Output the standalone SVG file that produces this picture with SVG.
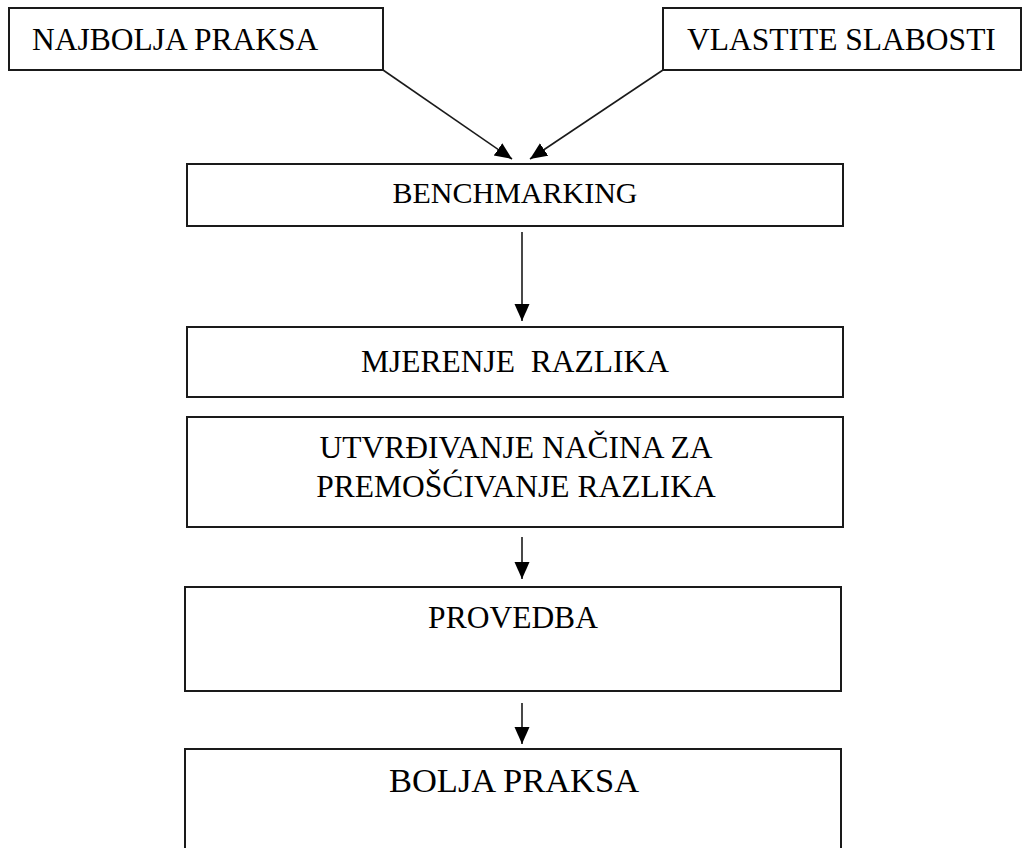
<svg xmlns="http://www.w3.org/2000/svg" width="1023" height="848" viewBox="0 0 1023 848">
<style>
.box{fill:#fff;stroke:#1a1a1a;stroke-width:2}
.t{font-family:'Liberation Serif','Times New Roman',Times,serif;font-size:31.5px;fill:#000}
.c{text-anchor:middle}
.con{stroke:#1a1a1a;stroke-width:1.6;fill:none;marker-end:url(#ah)}
</style>
<defs>
<marker id="ah" markerUnits="userSpaceOnUse" markerWidth="18" markerHeight="16" refX="17" refY="7.5" orient="auto">
<path d="M0,0 L17,7.5 L0,15 z" fill="#000"/>
</marker>
</defs>
<rect width="1023" height="848" fill="#fff"/>
<g id="connectors">
<line class="con" x1="383" y1="70" x2="512" y2="159"/>
<line class="con" x1="663" y1="70" x2="530" y2="159"/>
<line class="con" x1="522" y1="232" x2="522" y2="321"/>
<line class="con" x1="522" y1="537" x2="522" y2="579"/>
<line class="con" x1="522" y1="703" x2="522" y2="744"/>
</g>
<g id="najbolja">
<rect class="box" x="9" y="8" width="374" height="62"/>
<text class="t" font-family="Liberation Serif, serif" x="32" y="50">NAJBOLJA PRAKSA</text>
</g>
<g id="vlastite">
<rect class="box" x="663" y="8" width="358" height="62"/>
<text class="t" font-family="Liberation Serif, serif" x="687" y="50">VLASTITE SLABOSTI</text>
</g>
<g id="benchmarking">
<rect class="box" x="187" y="164" width="656" height="62"/>
<text class="t c" font-family="Liberation Serif, serif" x="515" y="203" style="font-size:30px">BENCHMARKING</text>
</g>
<g id="mjerenje">
<rect class="box" x="187" y="327" width="656" height="70"/>
<text class="t c" font-family="Liberation Serif, serif" x="515" y="372" xml:space="preserve">MJERENJE  RAZLIKA</text>
</g>
<g id="utvrdivanje">
<rect class="box" x="187" y="417" width="656" height="110"/>
<text class="t c" font-family="Liberation Serif, serif" x="516" y="458">UTVRĐIVANJE NAČINA ZA</text>
<text class="t c" font-family="Liberation Serif, serif" x="516" y="497">PREMOŠĆIVANJE RAZLIKA</text>
</g>
<g id="provedba">
<rect class="box" x="185" y="587" width="656" height="104"/>
<text class="t c" font-family="Liberation Serif, serif" x="513" y="628">PROVEDBA</text>
</g>
<g id="bolja">
<rect class="box" x="185" y="749" width="656" height="110"/>
<text class="t c" font-family="Liberation Serif, serif" x="514" y="792" style="font-size:34.5px">BOLJA PRAKSA</text>
</g>
</svg>
